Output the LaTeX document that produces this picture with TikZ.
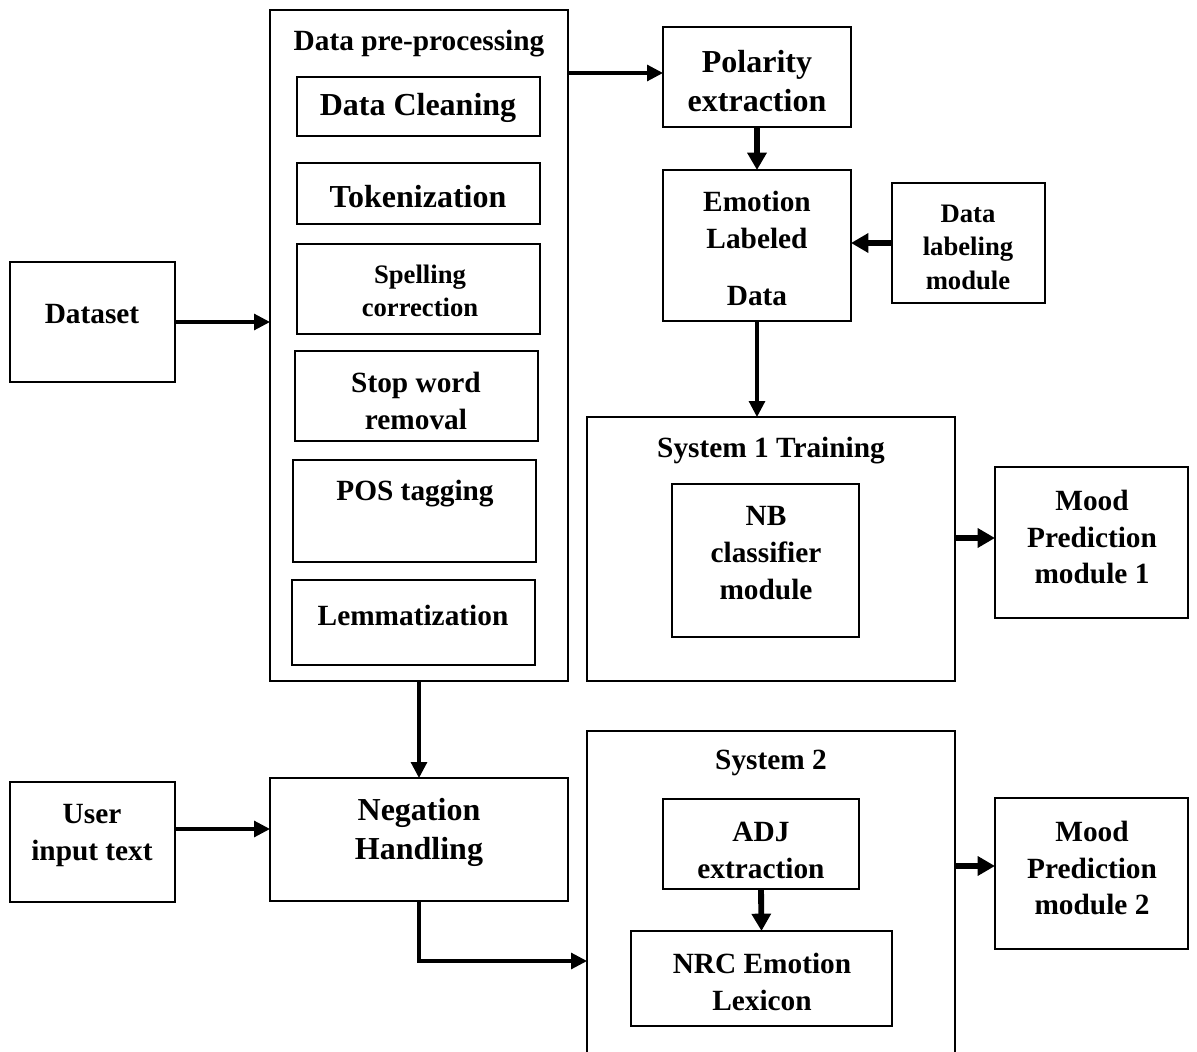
\documentclass[tikz,border=0pt]{standalone}
\usepackage{fontspec}
\setmainfont{Liberation Serif}
\usetikzlibrary{arrows.meta}
\newcommand\bx[5]{\node[box,minimum width={0.75pt*(#4-#2)},minimum height={0.75pt*(#5-#3)}] (#1) at ({(#2+#4)/2},{(#3+#5)/2}) {};}
\tikzset{
  box/.style={draw,line width=2pt,inner sep=0pt,outer sep=0pt,rectangle},
  txt/.style={align=center,inner sep=0pt,yshift=-2.4pt,font=\bfseries},
  lg/.style={txt,font=\fontsize{24}{29}\selectfont\bfseries},
  md/.style={txt,font=\fontsize{22}{27.5}\selectfont\bfseries},
  sm/.style={txt,font=\fontsize{20}{25}\selectfont\bfseries},
  arr/.style={line width=2.3pt,-{Triangle[length=12pt,width=12pt]}},
  thk/.style={line width=4.4pt,-{Triangle[length=13pt,width=14pt]}}
}
\begin{document}
\begin{tikzpicture}[x=0.75pt,y=-0.75pt]
\useasboundingbox (0,0) rectangle (1197,1052);
% boxes
\bx{dataset}{10}{262}{175}{382}
\bx{pre}{270}{10}{568}{681}
\bx{clean}{297}{77}{540}{136}
\bx{token}{297}{163}{540}{224}
\bx{spell}{297}{244}{540}{334}
\bx{stop}{295}{351}{538}{441}
\bx{pos}{293}{460}{536}{562}
\bx{lemma}{292}{580}{535}{665}
\bx{pol}{663}{27}{851}{127}
\bx{emo}{663}{170}{851}{321}
\bx{dl}{892}{183}{1045}{303}
\bx{sys1}{587}{417}{955}{681}
\bx{nb}{672}{484}{859}{637}
\bx{m1}{995}{467}{1188}{618}
\bx{user}{10}{782}{175}{902}
\bx{neg}{270}{778}{568}{901}
\begin{scope}
\clip (0,0) rectangle (1197,1052);
\bx{sys2}{587}{731}{955}{1090}
\end{scope}
\bx{adj}{663}{799}{859}{889}
\bx{nrc}{631}{931}{892}{1026}
\bx{m2}{995}{798}{1188}{949}
% texts
\node[md] (t-dataset) at (92,311) {Dataset};
\node[md] (t-pre) at (419,40) {Data pre-processing};
\node[lg] (t-clean) at (418,105) {Data Cleaning};
\node[lg] (t-token) at (418,193) {Tokenization};
\node[sm] (t-spell) at (420,288) {Spelling\\correction};
\node[md] (t-stop) at (416,398) {Stop word\\removal};
\node[md] (t-pos) at (415,490) {POS tagging};
\node[md] (t-lemma) at (413,612) {Lemmatization};
\node[lg] (t-pol) at (757,78) {Polarity\\extraction};
\node[md] (t-emo1) at (757,217) {Emotion\\Labeled};
\node[md] (t-emo2) at (757,293) {Data};
\node[sm] (t-dl) at (968,244) {Data\\labeling\\module};
\node[md] (t-sys1) at (771,447) {System 1 Training};
\node[md] (t-nb) at (766,550) {NB\\classifier\\module};
\node[md] (t-m1) at (1092,534) {Mood\\Prediction\\module 1};
\node[md] (t-user) at (92,832) {User\\input text};
\node[lg] (t-neg) at (419,829) {Negation\\Handling};
\node[md] (t-sys2) at (771,760) {System 2};
\node[md] (t-adj) at (761,847) {ADJ\\extraction};
\node[md] (t-nrc) at (762,979) {NRC Emotion\\Lexicon};
\node[md] (t-m2) at (1092,865) {Mood\\Prediction\\module 2};
% connectors
\draw[arr] (dataset.east) -- (pre.west |- dataset.east);
\draw[arr] (pre.east |- 0,73) -- (pol.west |- 0,73);
\draw[thk] (pol.south) -- (emo.north);
\draw[thk] (dl.west) -- (emo.east |- dl.west);
\draw[arr] (emo.south) -- (emo.south |- sys1.north);
\draw[thk] (sys1.east |- 0,538) -- (m1.west |- 0,538);
\draw[arr] (pre.south) -- (neg.north);
\draw[arr] (user.east |- 0,829) -- (neg.west |- 0,829);
\draw[arr] (neg.south) |- (sys2.west |- 0,961);
\draw[thk] (sys2.east |- 0,866) -- (m2.west |- 0,866);
\draw[thk] (adj.south) -- (nrc.north);
\end{tikzpicture}
\end{document}
